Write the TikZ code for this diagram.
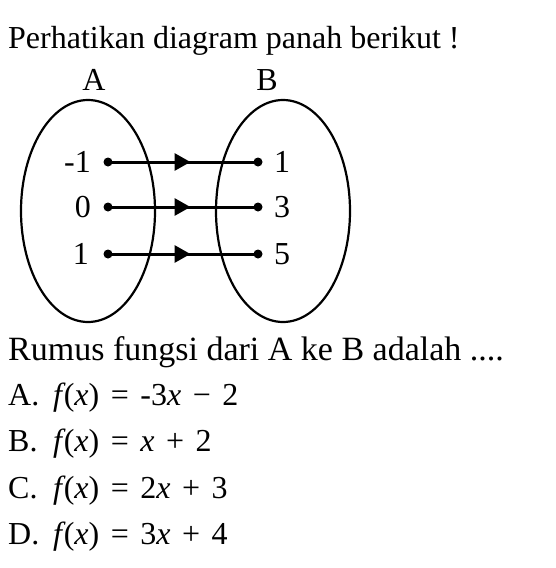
\documentclass[tikz,border=0pt]{standalone}
\usepackage{fontspec}
\setmainfont{Liberation Serif}
\usetikzlibrary{shapes.geometric,arrows.meta,decorations.markings}
\newcommand{\opsp}{\hspace{0.36em}}
\newcommand{\fx}{\textit{f}\kern-2pt(\textit{x})}
\begin{document}
\begin{tikzpicture}[x=1pt,y=-1pt,
  txt/.style={inner sep=0pt,font=\fontsize{32}{36}\selectfont},
  bigtxt/.style={inner sep=0pt,font=\fontsize{34}{38}\selectfont},
  setshape/.style={draw,ellipse,line width=2.2pt,minimum width=134pt,minimum height=222pt,inner sep=0pt},
  dot/.style={circle,fill,inner sep=0pt,minimum size=9pt},
  conn/.style={line width=3pt,postaction={decorate},
    decoration={markings,mark=at position 0.55 with {\arrow{Triangle[length=16pt,width=17pt]}}}}]
\useasboundingbox (0,0) rectangle (555,568);
\node[txt,anchor=base west] (title) at (8,48) {Perhatikan diagram panah berikut !};
\node[txt,anchor=base] (lA) at (94,90) {A};
\node[txt,anchor=base] (lB) at (267,90) {B};
\node[setshape] (EA) at (88,211) {};
\node[setshape] (EB) at (283,211) {};
\node[dot] (a1) at (108,162) {};
\node[dot] (a2) at (108,207) {};
\node[dot] (a3) at (108,254) {};
\node[dot] (b1) at (258,162) {};
\node[dot] (b2) at (258,207) {};
\node[dot] (b3) at (258,254) {};
\node[txt,anchor=east] (ta1) at (91,162) {-1};
\node[txt,anchor=east] (ta2) at (91,207) {0};
\node[txt,anchor=east] (ta3) at (89,254) {1};
\node[txt,anchor=west] (tb1) at (274,162) {1};
\node[txt,anchor=west] (tb2) at (274,207) {3};
\node[txt,anchor=west] (tb3) at (274,254) {5};
\draw[conn] (a1.center) -- (b1.center);
\draw[conn] (a2.center) -- (b2.center);
\draw[conn] (a3.center) -- (b3.center);
\node[bigtxt,anchor=base west] (q) at (8,360) {Rumus fungsi dari A ke B adalah ....};
\node[txt,anchor=base west] (oA) at (8,405) {A.};
\node[txt,anchor=base west] (oB) at (8,451) {B.};
\node[txt,anchor=base west] (oC) at (8,498) {C.};
\node[txt,anchor=base west] (oD) at (8,544) {D.};
\node[txt,anchor=base west] (eA) at (53,405) {\fx\opsp=\opsp-3\textit{x}\opsp−\opsp2};
\node[txt,anchor=base west] (eB) at (53,451) {\fx\opsp=\opsp\textit{x}\opsp+\opsp2};
\node[txt,anchor=base west] (eC) at (53,498) {\fx\opsp=\opsp2\textit{x}\opsp+\opsp3};
\node[txt,anchor=base west] (eD) at (53,544) {\fx\opsp=\opsp3\textit{x}\opsp+\opsp4};
\end{tikzpicture}
\end{document}
